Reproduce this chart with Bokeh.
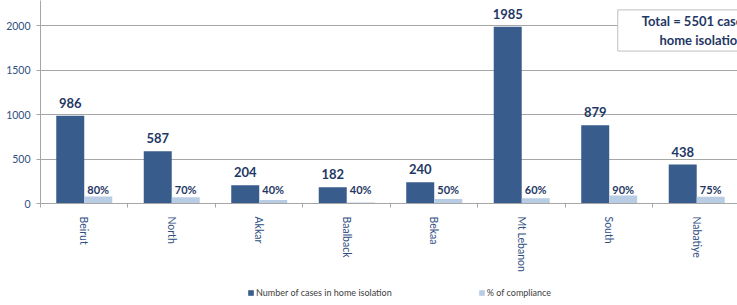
import math
from bokeh.plotting import figure
from bokeh.layouts import column
from bokeh.models import Range1d, FixedTicker, Legend, LegendItem, Label, ColumnDataSource
from bokeh.transform import dodge
from bokeh.core.properties import value
from bokeh.embed import file_html
from bokeh.resources import INLINE

regions = ["Beirut", "North", "Akkar", "Baalback", "Bekaa", "Mt Lebanon", "South", "Nabatiye"]
cases = [986, 587, 204, 182, 240, 1985, 879, 438]
compliance_labels = ["80%", "70%", "40%", "40%", "50%", "60%", "90%", "75%"]
compliance_bars = [80, 70, 40, 12, 50, 60, 90, 75]
y_ticks = [0, 500, 1000, 1500, 2000]
series_names = ["Number of cases in home isolation", "% of compliance"]
total_text = "Total = 5501 cases in\nhome isolation"

DARK = "#385D8C"
LIGHT = "#B8CCE4"
NAVY = "#1F3864"
AXIS_TXT = "#2F4F7F"
GRID = "#A6A6A6"
FONT = "Lato"

src = ColumnDataSource(dict(x=list(range(len(regions))), cases=cases,
                            comp=compliance_bars,
                            case_lbl=[str(c) for c in cases],
                            comp_lbl=compliance_labels,
                            zero=[0] * len(regions)))

p = figure(width=737, height=283, output_backend="svg", toolbar_location=None,
           x_range=Range1d(-0.5, 7.466), y_range=Range1d(0, 2281),
           min_border_left=40, min_border_right=0, min_border_top=0, min_border_bottom=80)
p.outline_line_color = None
p.background_fill_color = "white"
p.border_fill_color = "white"

p.vbar(x=dodge("x", -0.16, range=p.x_range), top="cases", width=0.32, source=src,
       fill_color=DARK, line_color=None)
p.vbar(x=dodge("x", 0.16, range=p.x_range), top="comp", width=0.32, source=src,
       fill_color=LIGHT, line_color=None)

p.text(x=dodge("x", -0.16, range=p.x_range), y="cases", text="case_lbl", source=src,
       text_align="center", text_baseline="bottom", y_offset=-8,
       text_font=value(FONT), text_font_style="bold", text_font_size="13px", text_color=NAVY)
p.text(x=dodge("x", 0.16, range=p.x_range), y="zero", text="comp_lbl", source=src,
       text_align="center", text_baseline="bottom", y_offset=-8,
       text_font=value(FONT), text_font_style="bold", text_font_size="11px", text_color=NAVY)

# axes
p.yaxis.ticker = FixedTicker(ticks=y_ticks)
p.yaxis.axis_line_color = GRID
p.yaxis.major_tick_line_color = GRID
p.yaxis.major_tick_out = 4
p.yaxis.major_tick_in = 0
p.yaxis.minor_tick_line_color = None
p.yaxis.major_label_standoff = 6
p.yaxis.major_label_text_font = FONT
p.yaxis.major_label_text_font_size = "10.5px"
p.yaxis.major_label_text_color = AXIS_TXT

p.xaxis.ticker = FixedTicker(ticks=list(range(len(regions))),
                             minor_ticks=[i - 0.5 for i in range(len(regions) + 1)])
p.xaxis.major_label_overrides = {i: r for i, r in enumerate(regions)}
p.xaxis.axis_line_color = GRID
p.xaxis.major_tick_line_color = None
p.xaxis.major_tick_out = 0
p.xaxis.major_tick_in = 0
p.xaxis.minor_tick_line_color = GRID
p.xaxis.minor_tick_out = 4
p.xaxis.minor_tick_in = 0
p.xaxis.major_label_orientation = -math.pi / 2
p.xaxis.major_label_standoff = 9
p.xaxis.major_label_text_font = FONT
p.xaxis.major_label_text_font_size = "10.5px"
p.xaxis.major_label_text_color = AXIS_TXT

p.xgrid.visible = False
p.ygrid.grid_line_color = GRID
p.ygrid.grid_line_width = 1

box = Label(x=7.06, y=1944, text=total_text, text_align="center", text_baseline="middle",
            text_font=FONT, text_font_style="bold", text_font_size="13px", text_color=NAVY,
            border_line_color="#BFBFBF", background_fill_color="white",
            padding=dict(left=24, right=24, top=3, bottom=3))
p.add_layout(box)

# legend strip
lg = figure(width=737, height=22, output_backend="svg", toolbar_location=None,
            x_range=Range1d(0, 1), y_range=Range1d(0, 1),
            x_axis_type=None, y_axis_type=None, min_border=0)
lg.outline_line_color = None
lg.xgrid.visible = False
lg.ygrid.visible = False
offscreen = ColumnDataSource(dict(x=[-10], top=[-10]))
l1 = lg.vbar(x="x", top="top", width=0.1, source=offscreen, fill_color=DARK, line_color=None)
l2 = lg.vbar(x="x", top="top", width=0.1, source=offscreen, fill_color=LIGHT, line_color=None)
legend = Legend(items=[LegendItem(label=series_names[0], renderers=[l1]),
                       LegendItem(label=series_names[1], renderers=[l2])],
                orientation="horizontal", location=(207, 7),
                glyph_width=7, glyph_height=7, label_standoff=2, spacing=86,
                padding=0, margin=0, border_line_color=None, background_fill_alpha=0,
                label_text_font=FONT, label_text_font_size="9px", label_text_color="#404040",
                label_height=10)
lg.add_layout(legend, "center")

layout = column(p, lg, spacing=0)
open("out.html", "w").write(file_html(layout, INLINE))
